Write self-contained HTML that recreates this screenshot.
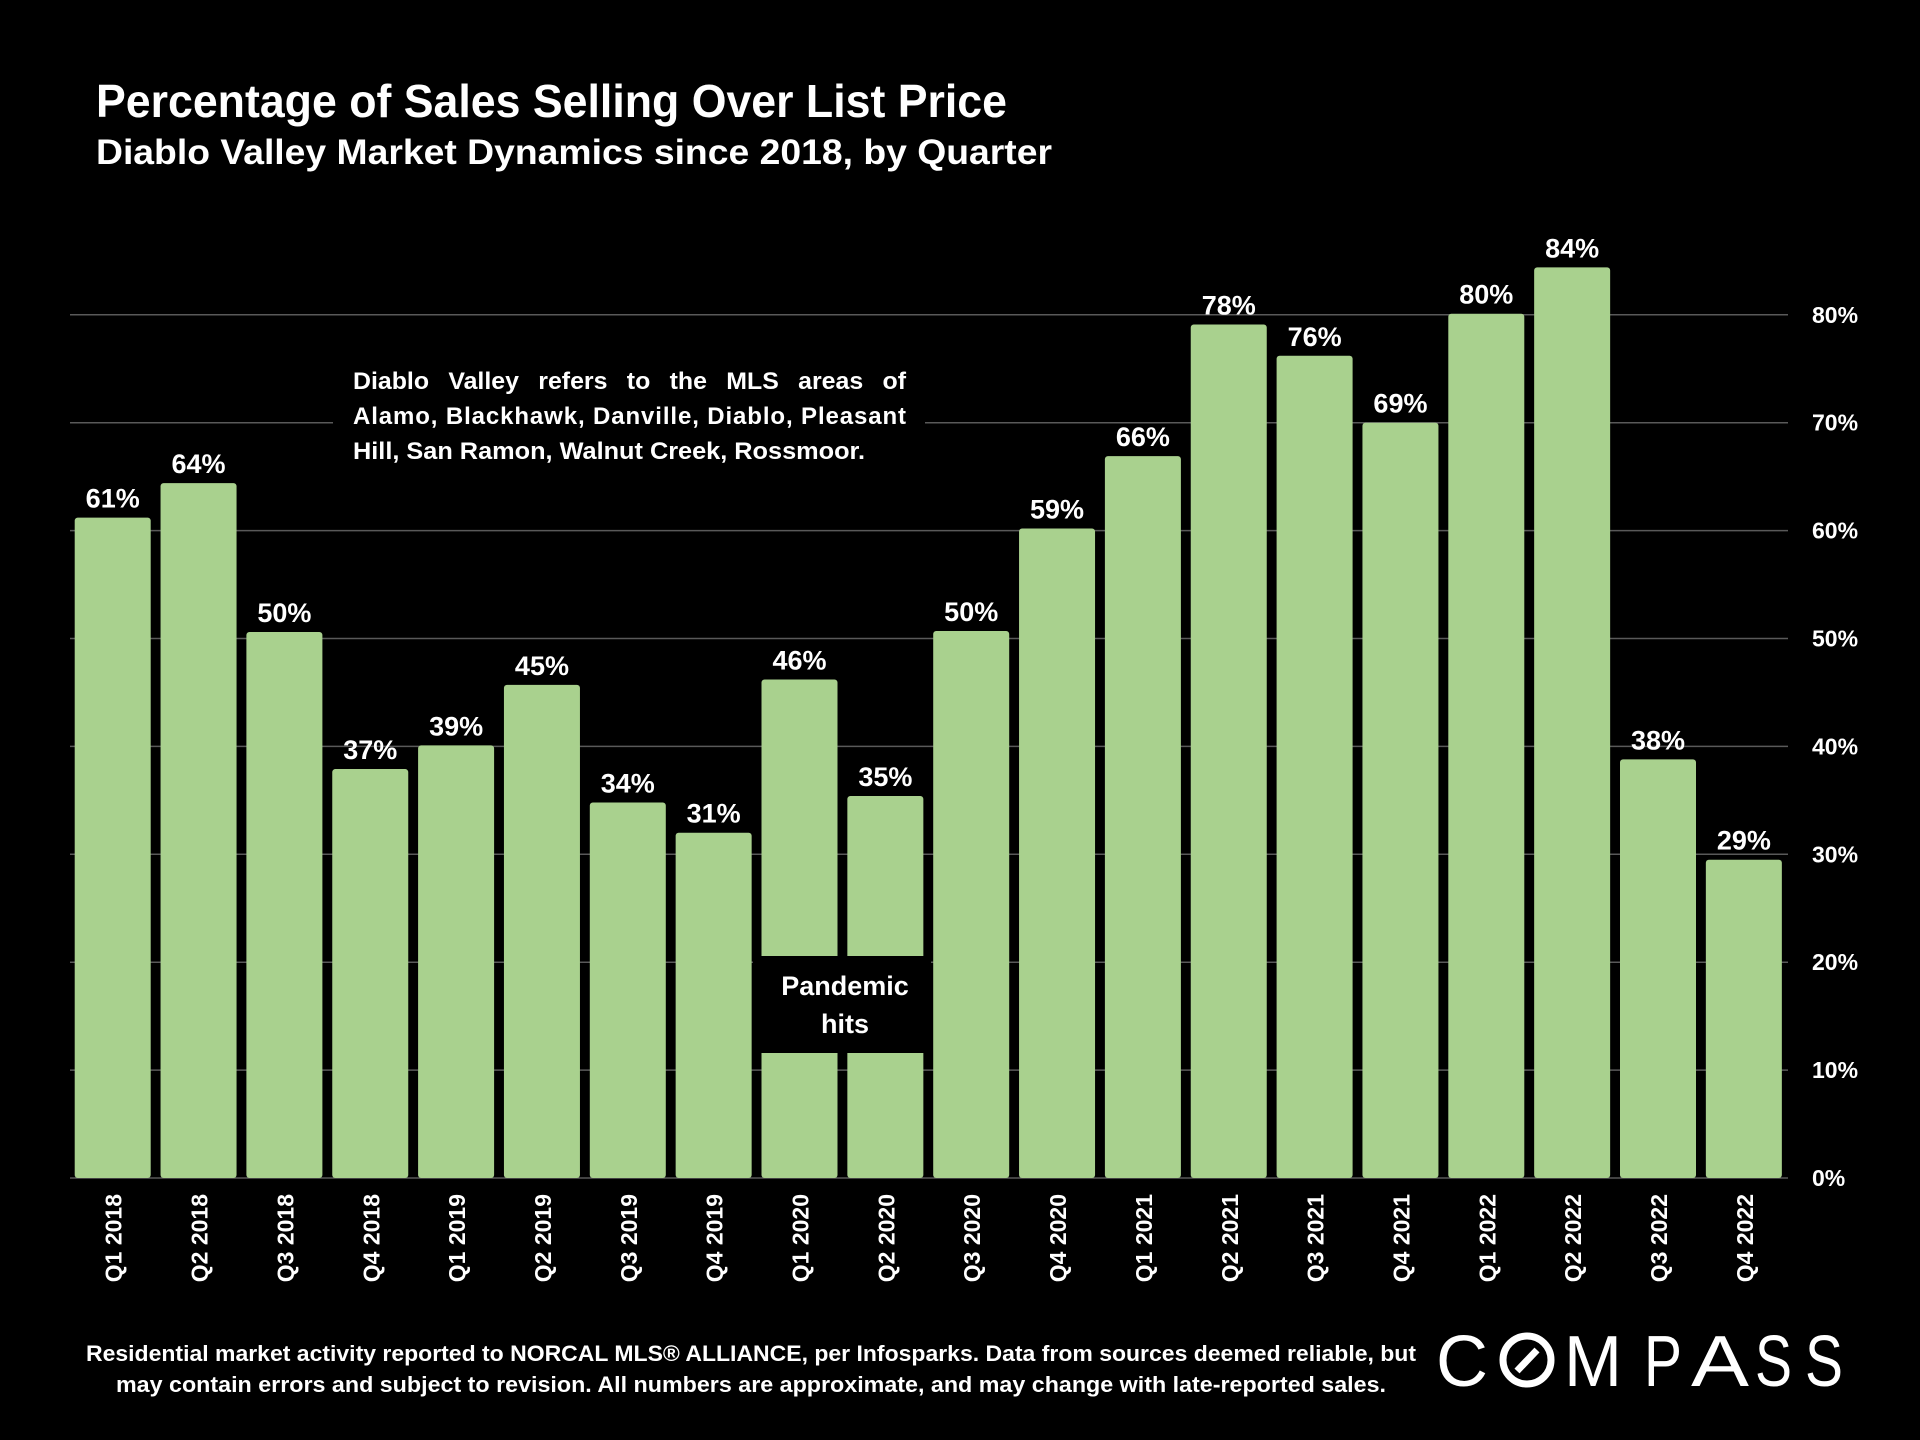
<!DOCTYPE html>
<html><head><meta charset="utf-8"><style>
html,body{margin:0;padding:0;background:#000;}
svg{display:block;font-family:"Liberation Sans",sans-serif;font-weight:bold;}
</style></head><body>
<svg id="chart" width="1920" height="1440" viewBox="0 0 1920 1440" xmlns="http://www.w3.org/2000/svg">
<rect width="1920" height="1440" fill="#000"/>
<text x="96" y="117" fill="#fff" font-size="46" textLength="911" lengthAdjust="spacingAndGlyphs">Percentage of Sales Selling Over List Price</text>
<text x="96" y="164" fill="#fff" font-size="35" textLength="956" lengthAdjust="spacingAndGlyphs">Diablo Valley Market Dynamics since 2018, by Quarter</text>
<g id="grid"></g>
<g id="bars"></g>
<rect x="333" y="355" width="592" height="116" fill="#000"/>
<g fill="#fff" font-size="24">
<text x="353" y="389" word-spacing="12" textLength="553" lengthAdjust="spacingAndGlyphs">Diablo Valley refers to the MLS areas of</text>
<text x="353" y="424" textLength="553" lengthAdjust="spacing">Alamo, Blackhawk, Danville, Diablo, Pleasant</text>
<text x="353" y="459" textLength="512" lengthAdjust="spacingAndGlyphs">Hill, San Ramon, Walnut Creek, Rossmoor.</text>
</g>
<rect x="753" y="956" width="178" height="97" fill="#000"/>
<g fill="#fff" font-size="27" text-anchor="middle">
<text x="845" y="995">Pandemic</text>
<text x="845" y="1033">hits</text>
</g>
<g id="xlabels"></g>
<g id="ylabels"></g>
<g fill="#fff" font-size="22" text-anchor="middle">
<text x="751" y="1361" textLength="1330" lengthAdjust="spacingAndGlyphs">Residential market activity reported to NORCAL MLS® ALLIANCE, per Infosparks. Data from sources deemed reliable, but</text>
<text x="751" y="1392" textLength="1270" lengthAdjust="spacingAndGlyphs">may contain errors and subject to revision. All numbers are approximate, and may change with late-reported sales.</text>
</g>
<g fill="#fff" font-size="72" font-weight="normal">
<text x="1436" y="1386" textLength="52" lengthAdjust="spacingAndGlyphs">C</text>
<circle cx="1527" cy="1360" r="24" fill="none" stroke="#fff" stroke-width="7"/>
<line x1="1517" y1="1371" x2="1537" y2="1350" stroke="#fff" stroke-width="7"/>
<text x="1564" y="1386" textLength="58" lengthAdjust="spacingAndGlyphs">M</text>
<text x="1644" y="1386" textLength="38" lengthAdjust="spacingAndGlyphs">P</text>
<text x="1691" y="1386" textLength="58" lengthAdjust="spacingAndGlyphs">A</text>
<text x="1755" y="1386" textLength="37" lengthAdjust="spacingAndGlyphs">S</text>
<text x="1805" y="1386" textLength="38" lengthAdjust="spacingAndGlyphs">S</text>
</g>
</svg>
<script>
const categories=["Q1 2018","Q2 2018","Q3 2018","Q4 2018","Q1 2019","Q2 2019","Q3 2019","Q4 2019","Q1 2020","Q2 2020","Q3 2020","Q4 2020","Q1 2021","Q2 2021","Q3 2021","Q4 2021","Q1 2022","Q2 2022","Q3 2022","Q4 2022"];
const values=[61.2,64.4,50.6,37.9,40.1,45.7,34.8,32.0,46.2,35.4,50.7,60.2,66.9,79.1,76.2,70.0,80.1,84.4,38.8,29.5];
const valueLabels=["61%","64%","50%","37%","39%","45%","34%","31%","46%","35%","50%","59%","66%","78%","76%","69%","80%","84%","38%","29%"];
const yTicks=[0,10,20,30,40,50,60,70,80];
const NS="http://www.w3.org/2000/svg";
const y0=1178, yPer=10.79, x0=70, pitch=85.85, bw=76, gridRight=1788;
function yScale(v){return y0-v*yPer;}
function xScale(i){return x0+4.7+i*pitch;}
function mk(tag,attrs,parent){const e=document.createElementNS(NS,tag);for(const k in attrs)e.setAttribute(k,attrs[k]);parent.appendChild(e);return e;}
const grid=document.getElementById('grid'),bars=document.getElementById('bars'),xl=document.getElementById('xlabels'),yl=document.getElementById('ylabels');
yTicks.forEach(t=>{
  const l=mk('line',{x1:x0,x2:gridRight,y1:yScale(t),y2:yScale(t),stroke:'#595959','stroke-width':1.5},grid);
  
  
  const tx=mk('text',{x:1812,y:yScale(t)+8,fill:'#fff','font-size':23},yl);
  tx.textContent=t+'%';
  
  
});
categories.forEach((c,i)=>{
  const x=xScale(i),y=yScale(values[i]);
  const r=mk('rect',{x:x,y:y,width:bw,height:y0-y,fill:'#a9d18e',rx:3},bars);
  
  
  const vl=mk('text',{x:x+bw/2,y:y-10,fill:'#fff','font-size':27,'text-anchor':'middle'},bars);
  vl.textContent=valueLabels[i];
  
  
  const cx=x+bw/2+9;
  const xt=mk('text',{x:0,y:0,fill:'#fff','font-size':23,'text-anchor':'end',transform:`translate(${cx},1194) rotate(-90)`},xl);
  xt.textContent=c;
  
  
});
</script>
</body></html>
